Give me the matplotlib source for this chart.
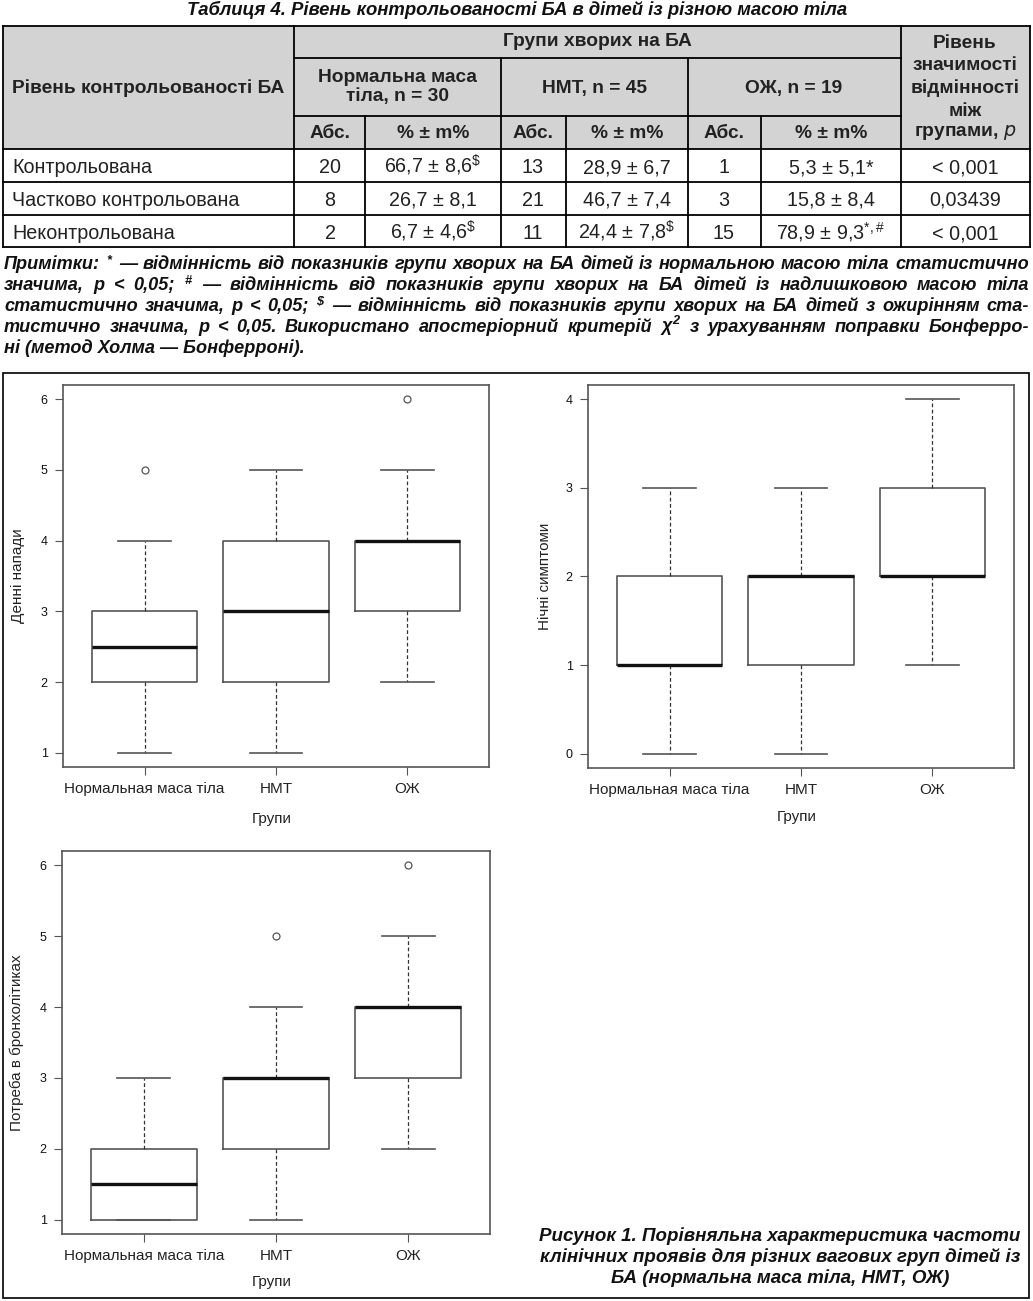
import numpy as np
import matplotlib
matplotlib.use("Agg")
import matplotlib.pyplot as plt
from matplotlib.patches import Rectangle

W, H = 1033, 1301
plt.rcParams['font.family'] = ['Liberation Sans', 'DejaVu Sans']
plt.rcParams['mathtext.default'] = 'regular'

# ---- table data ----
row_names = ["Контрольована", "Частково контрольована", "Неконтрольована"]
normal_abs = [20, 8, 2]
normal_pct = [66.7, 26.7, 6.7]
normal_m = [8.6, 8.1, 4.6]
normal_mark = ["\\$", "", "\\$"]
nmt_abs = [13, 21, 11]
nmt_pct = [28.9, 46.7, 24.4]
nmt_m = [6.7, 7.4, 7.8]
nmt_mark = ["", "", "\\$"]
obese_abs = [1, 3, 15]
obese_pct = [5.3, 15.8, 78.9]
obese_m = [5.1, 8.4, 9.3]
obese_mark = ["*", "", "*,\\#"]
p_values = ["< 0,001", "0,03439", "< 0,001"]

# ---- boxplot data (whisker low, q1, median, q3, whisker high, outliers) ----
groups = ["Нормальная маса тіла", "НМТ", "ОЖ"]

day_lo = [1, 1, 2]
day_q1 = [2, 2, 3]
day_med = [2.5, 3, 4]
day_q3 = [3, 4, 4]
day_hi = [4, 5, 5]
day_out = [[5], [], [6]]

night_lo = [0, 0, 1]
night_q1 = [1, 1, 2]
night_med = [1, 2, 2]
night_q3 = [2, 2, 3]
night_hi = [3, 3, 4]
night_out = [[], [], []]

bron_lo = [1, 1, 2]
bron_q1 = [1, 2, 3]
bron_med = [1.5, 3, 4]
bron_q3 = [2, 3, 4]
bron_hi = [3, 4, 5]
bron_out = [[], [5], [6]]

fig = plt.figure(figsize=(W / 100, H / 100), dpi=100)
ov = fig.add_axes([0, 0, 1, 1])
ov.set_xlim(0, W)
ov.set_ylim(H, 0)
ov.axis('off')
renderer = fig.canvas.get_renderer()


def px(x0, y0, x1, y1):
    return [x0 / W, 1 - y1 / H, (x1 - x0) / W, (y1 - y0) / H]


def fmt(v):
    return f"{v:.1f}".replace(".", ",")


def pct_text(p, m, mark):
    s = fmt(p) + " ± " + fmt(m)
    if mark == "*":
        return s + "*"
    if mark:
        return s + "$^{" + mark + "}$"
    return s


# ---- title ----
ov.text(517, 10, "Таблиця 4. Рівень контрольованості БА в дітей із різною масою тіла",
        ha='center', va='center', fontsize=13.3, fontweight='bold', style='italic', color='#111')

# ---- table ----
ov.add_patch(Rectangle((3, 26), 1027, 123, facecolor='#d3d3d3', edgecolor='none'))
lw = 1.3
ov.plot([3, 1030], [26, 26], color='k', lw=lw)
for y in [149, 182, 215, 247]:
    ov.plot([3, 1030], [y, y], color='k', lw=lw)
ov.plot([294, 901], [58, 58], color='k', lw=lw)
ov.plot([294, 901], [116, 116], color='k', lw=lw)
for x in [3, 294, 901, 1030]:
    ov.plot([x, x], [26, 247], color='k', lw=lw)
for x in [501, 688]:
    ov.plot([x, x], [58, 247], color='k', lw=lw)
for x in [365, 566, 761]:
    ov.plot([x, x], [116, 247], color='k', lw=lw)

hk = dict(ha='center', va='center', fontsize=13.8, fontweight='bold', color='#222')
ov.text(148, 88, "Рівень контрольованості БА", **hk)
ov.text(597, 42, "Групи хворих на БА", **hk)
ov.text(397, 87, "Нормальна маса\nтіла, n = 30", linespacing=1.1, **hk)
ov.text(594, 88, "НМТ, n = 45", **hk)
ov.text(794, 88, "ОЖ, n = 19", **hk)
for yy, s in zip([44, 66, 88, 111, 133],
                 ["Рівень", "значимості", "відмінності", "між", "групами, $\\mathit{p}$"]):
    ov.text(965, yy, s, **hk)
for cx in [330, 533, 724]:
    ov.text(cx, 133, "Абс.", **hk)
for cx in [433, 627, 831]:
    ov.text(cx, 133, "% ± m%", **hk)

dk = dict(ha='center', va='baseline', fontsize=14.2, color='#222')
for i, yy in enumerate([166, 199, 232]):
    yb = yy + 7
    ov.text(12, yb, row_names[i], ha='left', va='baseline', fontsize=14.2, color='#222')
    ov.text(330, yb, str(normal_abs[i]), **dk)
    ov.text(433, yb, pct_text(normal_pct[i], normal_m[i], normal_mark[i]), **dk)
    ov.text(533, yb, str(nmt_abs[i]), **dk)
    ov.text(627, yb, pct_text(nmt_pct[i], nmt_m[i], nmt_mark[i]), **dk)
    ov.text(724, yb, str(obese_abs[i]), **dk)
    ov.text(831, yb, pct_text(obese_pct[i], obese_m[i], obese_mark[i]), **dk)
    ov.text(965, yb, p_values[i], **dk)

# ---- notes (justified) ----
notes = [
    "Примітки: $^{*}$ — відмінність від показників групи хворих на БА дітей із нормальною масою тіла статистично",
    "значима, p < 0,05; $^{\\#}$ — відмінність від показників групи хворих на БА дітей із надлишковою масою тіла",
    "статистично значима, p < 0,05; $^{\\$}$ — відмінність від показників групи хворих на БА дітей з ожирінням ста-",
    "тистично значима, p < 0,05. Використано апостеріорний критерій χ$^{2}$ з урахуванням поправки Бонферро-",
    "ні (метод Холма — Бонферроні).",
]
base_fs = 11.5
nk = dict(va='baseline', ha='left', fontweight='bold', style='italic', color='#111')
# pick one font size so the widest line just fits the column
probe = [ov.text(0, 0, s, fontsize=base_fs, **nk) for s in notes[:-1]]
widest = max(p.get_window_extent(renderer).width for p in probe)
for p in probe:
    p.remove()
fs = base_fs * 1020 / widest
for j, line in enumerate(notes):
    yy = 263 + 21 * j + 6
    if j == len(notes) - 1:
        ov.text(4, yy, line, fontsize=fs, **nk)
        continue
    words = line.split(" ")
    arts = [ov.text(0, yy, w, fontsize=fs, **nk) for w in words]
    widths = [a.get_window_extent(renderer).width for a in arts]
    gap = (1029 - 4 - sum(widths)) / (len(words) - 1)
    x = 4
    for a, w in zip(arts, widths):
        a.set_x(x)
        x += w + gap

# ---- frame around the figure ----
ov.add_patch(Rectangle((3, 373), 1026, 925, facecolor='none', edgecolor='k', lw=1.2))


def panel(rect, lo, q1, med, q3, hi, out, ylabel, ylab_x, xlab_y):
    ax = fig.add_axes(px(*rect))
    stats = [dict(whislo=lo[i], q1=q1[i], med=med[i], q3=q3[i], whishi=hi[i],
                  fliers=out[i]) for i in range(3)]
    ax.bxp(stats, positions=[1, 2, 3], widths=0.8, capwidths=0.4,
           boxprops=dict(color='#555', lw=1.2),
           medianprops=dict(color='#111', lw=2.4),
           whiskerprops=dict(color='#333', lw=0.9, ls=(0, (3, 2))),
           capprops=dict(color='#555', lw=1.2),
           flierprops=dict(marker='o', mfc='none', mec='#555', ms=5, mew=0.9))
    allv = lo + hi + [v for o in out for v in o]
    vmin, vmax = min(allv), max(allv)
    pad = 0.04 * (vmax - vmin)
    ax.set_ylim(vmin - pad, vmax + pad)
    ax.set_xlim(0.38, 3.62)
    ax.set_yticks(range(int(vmin), int(vmax) + 1))
    ax.set_xticks([1, 2, 3])
    ax.set_xticklabels(groups, fontsize=11, color='#222')
    ax.tick_params(axis='y', labelsize=9, labelcolor='#111', length=6, color='#555', pad=5)
    ax.tick_params(axis='x', length=6, color='#555', pad=5)
    for s in ax.spines.values():
        s.set_color('#555')
        s.set_linewidth(1.2)
    x0, y0, x1, y1 = rect
    ov.text(ylab_x, (y0 + y1) / 2, ylabel, rotation=90, ha='center', va='center',
            fontsize=11, color='#222')
    ov.text((x0 + x1) / 2 - 4, xlab_y, "Групи", ha='center', va='center', fontsize=11, color='#222')
    return ax


panel((63, 385, 489, 767), day_lo, day_q1, day_med, day_q3, day_hi, day_out,
      "Денні напади", 18, 819)
panel((588, 385, 1014, 768), night_lo, night_q1, night_med, night_q3, night_hi, night_out,
      "Нічні симптоми", 545, 817)
panel((62, 851, 490, 1234), bron_lo, bron_q1, bron_med, bron_q3, bron_hi, bron_out,
      "Потреба в бронхолітиках", 17, 1282)

# ---- caption ----
caption = ["Рисунок 1. Порівняльна характеристика частоти",
           "клінічних проявів для різних вагових груп дітей із",
           "БА (нормальна маса тіла, НМТ, ОЖ)"]
for j, s in enumerate(caption):
    ov.text(780, 1236 + 21 * j, s, ha='center', va='center', fontsize=13.5,
            fontweight='bold', style='italic', color='#111')

fig.savefig("out.png", dpi=100)
